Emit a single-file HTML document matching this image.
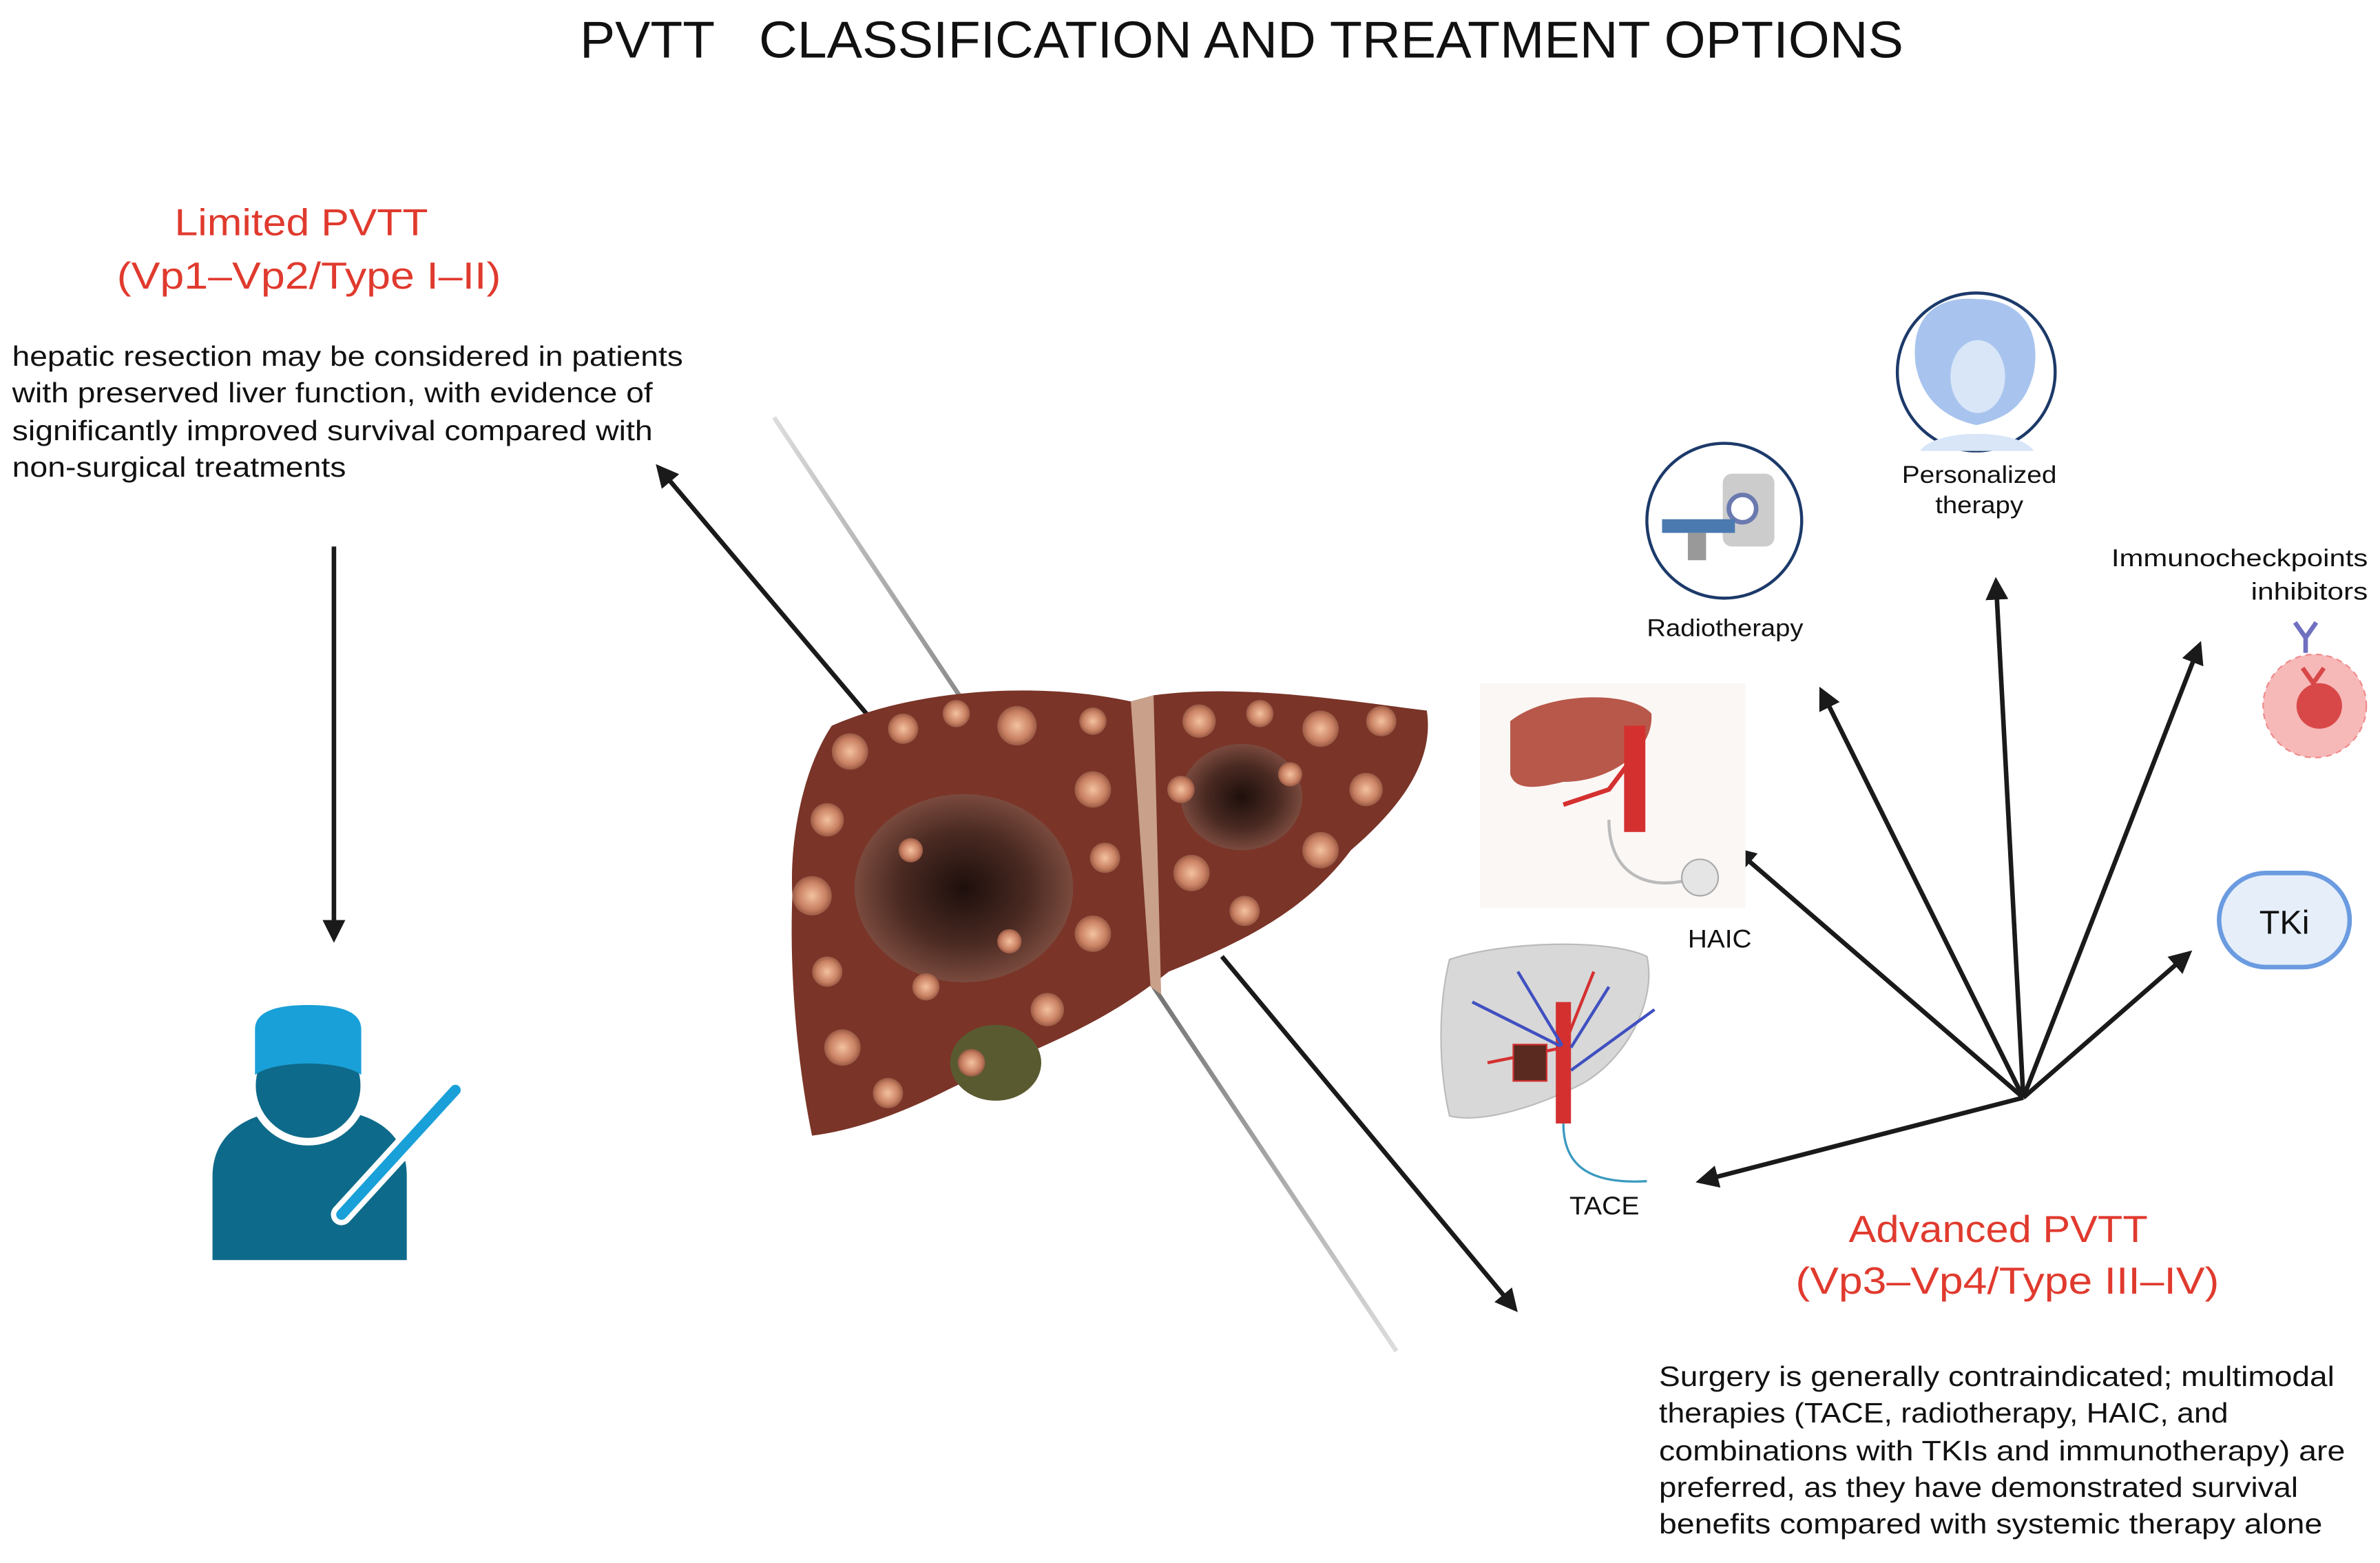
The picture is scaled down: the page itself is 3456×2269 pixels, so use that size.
<!DOCTYPE html>
<html><head><meta charset="utf-8"><style>
html,body{margin:0;padding:0;background:#fff;}
svg{display:block;}
text{font-family:"Liberation Sans",Arial,sans-serif;}
</style></head><body>
<svg width="3456" height="2269" viewBox="0 0 1568 1029.5" preserveAspectRatio="none" xmlns="http://www.w3.org/2000/svg">
<defs>
<marker id="ah" viewBox="0 0 10 10" refX="8" refY="5" markerWidth="5" markerHeight="5" orient="auto-start-reverse"><path d="M0,0 L10,5 L0,10 z" fill="#1a1a1a"/></marker>
<linearGradient id="gl" x1="0" y1="0" x2="1" y2="1"><stop offset="0" stop-color="#ddd"/><stop offset="0.5" stop-color="#555"/><stop offset="1" stop-color="#ddd"/></linearGradient>
<radialGradient id="nod"><stop offset="0" stop-color="#f3c2a0"/><stop offset="0.7" stop-color="#c98163"/><stop offset="1" stop-color="#9a5a45"/></radialGradient>
<radialGradient id="les"><stop offset="0" stop-color="#1e0f0c"/><stop offset="0.6" stop-color="#4a2a22"/><stop offset="1" stop-color="#7a4a3e"/></radialGradient>
</defs>
<text x="382" y="38" font-size="34" fill="#111" textLength="89" lengthAdjust="spacingAndGlyphs">PVTT</text>
<text x="500" y="38" font-size="34" fill="#111" textLength="754" lengthAdjust="spacingAndGlyphs">CLASSIFICATION AND TREATMENT OPTIONS</text>
<text x="115" y="155" font-size="25" fill="#e03a2e" textLength="167" lengthAdjust="spacingAndGlyphs">Limited PVTT</text>
<text x="77" y="190" font-size="25" fill="#e03a2e" textLength="253" lengthAdjust="spacingAndGlyphs">(Vp1–Vp2/Type I–II)</text>
<g font-size="18.5" fill="#111">
<text x="8" y="241" textLength="442" lengthAdjust="spacingAndGlyphs">hepatic resection may be considered in patients</text>
<text x="8" y="265" textLength="422" lengthAdjust="spacingAndGlyphs">with preserved liver function, with evidence of</text>
<text x="8" y="290" textLength="422" lengthAdjust="spacingAndGlyphs">significantly improved survival compared with</text>
<text x="8" y="314" textLength="220" lengthAdjust="spacingAndGlyphs">non-surgical treatments</text>
</g>
<line x1="510" y1="275" x2="920" y2="890" stroke="url(#gl)" stroke-width="3"/>
<g stroke="#1a1a1a" stroke-width="3" fill="none" marker-end="url(#ah)">
<line x1="220" y1="360" x2="220" y2="618"/>
<line x1="575" y1="475" x2="434" y2="308"/>
<line x1="805" y1="630" x2="998" y2="862"/>
<line x1="1333" y1="723" x2="1120" y2="778"/>
<line x1="1333" y1="723" x2="1144" y2="560"/>
<line x1="1333" y1="723" x2="1200" y2="455"/>
<line x1="1333" y1="723" x2="1315" y2="383"/>
<line x1="1333" y1="723" x2="1449" y2="425"/>
<line x1="1333" y1="723" x2="1442" y2="628"/>
</g>
<g>
<path d="M548,478 C600,455 680,448 745,462 L760,458 C820,450 890,462 940,468 C945,500 925,530 890,560 C860,600 820,620 770,640 C720,680 680,690 620,720 C590,735 560,745 535,748 C525,700 520,640 522,590 C520,550 530,505 548,478 Z" fill="#7a3428"/>
<path d="M745,462 L760,458 L765,655 L758,650 Z" fill="#c9a08a"/>
<ellipse cx="656" cy="700" rx="30" ry="25" fill="#5a5a30"/>
<ellipse cx="635" cy="585" rx="72" ry="62" fill="url(#les)"/>
<ellipse cx="818" cy="525" rx="40" ry="35" fill="url(#les)"/>
<g fill="url(#nod)">
<circle cx="560" cy="495" r="12"/><circle cx="595" cy="480" r="10"/><circle cx="630" cy="470" r="9"/><circle cx="670" cy="478" r="13"/><circle cx="720" cy="475" r="9"/>
<circle cx="545" cy="540" r="11"/><circle cx="535" cy="590" r="13"/><circle cx="545" cy="640" r="10"/><circle cx="555" cy="690" r="12"/><circle cx="585" cy="720" r="10"/>
<circle cx="720" cy="520" r="12"/><circle cx="728" cy="565" r="10"/><circle cx="720" cy="615" r="12"/><circle cx="690" cy="665" r="11"/><circle cx="640" cy="700" r="9"/>
<circle cx="790" cy="475" r="11"/><circle cx="830" cy="470" r="9"/><circle cx="870" cy="480" r="12"/><circle cx="910" cy="475" r="10"/><circle cx="900" cy="520" r="11"/>
<circle cx="870" cy="560" r="12"/><circle cx="785" cy="575" r="12"/><circle cx="820" cy="600" r="10"/><circle cx="778" cy="520" r="9"/><circle cx="850" cy="510" r="8"/>
<circle cx="610" cy="650" r="9"/><circle cx="665" cy="620" r="8"/><circle cx="600" cy="560" r="8"/>
</g>
</g>
<g>
<path d="M140,830 L140,775 C140,745 165,730 205,730 C245,730 268,745 268,775 L268,830 Z" fill="#0e6a8a"/>
<circle cx="203" cy="715" r="37" fill="#0e6a8a" stroke="#fff" stroke-width="5"/>
<path d="M168,708 L168,678 C168,665 185,662 203,662 C221,662 238,665 238,678 L238,708 C225,698 181,698 168,708 Z" fill="#1aa0d8"/>
<line x1="225" y1="800" x2="300" y2="718" stroke="#fff" stroke-width="14" stroke-linecap="round"/>
<line x1="225" y1="800" x2="300" y2="718" stroke="#1aa0d8" stroke-width="7" stroke-linecap="round"/>
</g>
<g>
<rect x="975" y="450" width="175" height="148" fill="#fbf7f5"/>
<path d="M995,475 C1020,455 1075,455 1088,470 C1090,495 1060,515 1030,515 C1010,520 998,520 995,510 Z" fill="#b8584a"/>
<rect x="1070" y="478" width="14" height="70" fill="#d43030"/>
<path d="M1030,530 L1060,520 L1075,500" stroke="#d43030" stroke-width="3" fill="none"/>
<path d="M1060,540 C1060,580 1090,585 1110,580" stroke="#bbb" stroke-width="2" fill="none"/>
<circle cx="1120" cy="578" r="12" fill="#e5e5e5" stroke="#aaa"/>
</g>
<text x="1112" y="624" font-size="17" fill="#111" textLength="42" lengthAdjust="spacingAndGlyphs">HAIC</text>
<g>
<path d="M955,632 C990,620 1060,618 1085,630 C1092,660 1070,700 1040,715 C1010,730 975,740 955,735 C947,700 948,660 955,632 Z" fill="#d8d8d8" stroke="#bbb"/>
<rect x="1025" y="660" width="10" height="80" fill="#d43030"/>
<path d="M970,660 L1030,690 M1000,640 L1030,690 M1060,650 L1035,690 M1090,665 L1035,705" stroke="#4050c0" stroke-width="2" fill="none"/>
<path d="M980,700 L1030,690 M1050,640 L1030,690" stroke="#d43030" stroke-width="2" fill="none"/>
<rect x="997" y="688" width="22" height="24" fill="#5a2a20" stroke="#d43030"/>
<path d="M1030,740 C1030,770 1050,780 1085,778" stroke="#3a9ac0" stroke-width="1.5" fill="none"/>
</g>
<text x="1034" y="800" font-size="17" fill="#111" textLength="46" lengthAdjust="spacingAndGlyphs">TACE</text>
<circle cx="1136" cy="343" r="51" fill="#fff" stroke="#1c3a6a" stroke-width="2"/>
<rect x="1135" y="312" width="34" height="48" rx="6" fill="#ccc"/>
<circle cx="1148" cy="335" r="9" fill="#fff" stroke="#6a7ab0" stroke-width="3"/>
<rect x="1095" y="342" width="48" height="9" fill="#4a7ab0"/>
<rect x="1112" y="351" width="12" height="18" fill="#999"/>
<text x="1085" y="419" font-size="16" fill="#111" textLength="103" lengthAdjust="spacingAndGlyphs">Radiotherapy</text>
<circle cx="1302" cy="245" r="52" fill="#fff" stroke="#1c3a6a" stroke-width="2"/>
<path d="M1262,240 C1258,205 1280,195 1302,197 C1330,197 1345,215 1340,245 C1335,265 1325,275 1302,280 C1280,275 1266,262 1262,240 Z" fill="#a8c4ee"/>
<ellipse cx="1303" cy="248" rx="18" ry="24" fill="#d8e6f8"/>
<path d="M1265,297 C1275,282 1330,282 1340,297" fill="#d8e6f8"/>
<text x="1253" y="318" font-size="16" fill="#111" textLength="102" lengthAdjust="spacingAndGlyphs">Personalized</text>
<text x="1275" y="338" font-size="16" fill="#111" textLength="58" lengthAdjust="spacingAndGlyphs">therapy</text>
<text x="1391" y="373" font-size="16" fill="#111" textLength="169" lengthAdjust="spacingAndGlyphs">Immunocheckpoints</text>
<text x="1483" y="395" font-size="16" fill="#111" textLength="77" lengthAdjust="spacingAndGlyphs">inhibitors</text>
<circle cx="1525" cy="465" r="34" fill="#f7b8b8" stroke="#f08a8a" stroke-dasharray="4 3"/>
<circle cx="1528" cy="465" r="15" fill="#d84848"/>
<path d="M1512,410 L1519,420 L1526,410 M1519,420 L1519,430" stroke="#7070c0" stroke-width="3" fill="none"/>
<path d="M1517,440 L1524,450 L1531,440" stroke="#d84848" stroke-width="3" fill="none"/>
<rect x="1462" y="575" width="86" height="62" rx="31" fill="#e5eef9" stroke="#6b9be0" stroke-width="3"/>
<text x="1505" y="615" font-size="22" text-anchor="middle" fill="#111">TKi</text>
<text x="1218" y="818" font-size="25" fill="#e03a2e" textLength="197" lengthAdjust="spacingAndGlyphs">Advanced PVTT</text>
<text x="1183" y="852" font-size="25" fill="#e03a2e" textLength="279" lengthAdjust="spacingAndGlyphs">(Vp3–Vp4/Type III–IV)</text>
<g font-size="18.5" fill="#111">
<text x="1093" y="913" textLength="445" lengthAdjust="spacingAndGlyphs">Surgery is generally contraindicated; multimodal</text>
<text x="1093" y="937" textLength="375" lengthAdjust="spacingAndGlyphs">therapies (TACE, radiotherapy, HAIC, and</text>
<text x="1093" y="962" textLength="452" lengthAdjust="spacingAndGlyphs">combinations with TKIs and immunotherapy) are</text>
<text x="1093" y="986" textLength="421" lengthAdjust="spacingAndGlyphs">preferred, as they have demonstrated survival</text>
<text x="1093" y="1010" textLength="437" lengthAdjust="spacingAndGlyphs">benefits compared with systemic therapy alone</text>
</g>
</svg>
</body></html>
